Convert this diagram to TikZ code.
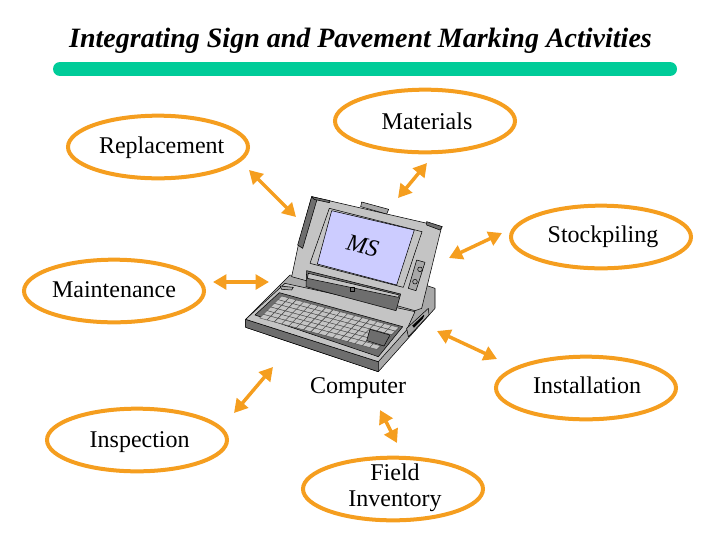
\documentclass[tikz,border=0pt]{standalone}
\usepackage{fontspec}
\setmainfont{Liberation Serif}
\usetikzlibrary{shapes.geometric,arrows.meta}
\definecolor{bandgreen}{HTML}{00CC99}
\definecolor{ringorange}{HTML}{F59E1F}
\definecolor{screenblue}{HTML}{CCCCFF}
\definecolor{lidgray}{HTML}{C4C4C4}
\definecolor{basegray}{HTML}{A8A8A8}
\definecolor{darkgray}{HTML}{6E6E6E}
\tikzset{
  bubble/.style={ellipse,draw=ringorange,line width=3pt,inner sep=0pt,
    minimum width=135pt,minimum height=47pt},
  plain/.style={inner sep=0pt,align=center,font=\fontsize{18}{19.5}\selectfont},
  link/.style={ringorange,line width=2.6pt,{Triangle[length=10pt,width=11pt]}-{Triangle[length=10pt,width=11pt]}},
  part/.style={draw=black,line width=0.4pt,line join=round},
  keycap/.style={draw=black!70,fill=lidgray,line width=0.3pt},
}
\begin{document}
\begin{tikzpicture}[x=0.75pt,y=-0.75pt]
  \useasboundingbox (0,0) rectangle (720,540);
  \node[inner sep=0pt,font=\fontsize{21}{24}\selectfont\bfseries\itshape] (title) at (360.5,41)
    {Integrating Sign and Pavement Marking Activities};
  \draw[bandgreen,line width=10.5pt,line cap=round] (60,69) -- (670,69);

  % laptop, in coordinates of a 3x enlargement
  \begin{scope}[shift={(230,180)},scale=1/3]
    \draw[part,fill=basegray] (47,418) -- (47,442) -- (445,575) -- (615,385)
      -- (615,325) -- (585,315) -- (180,285) -- cycle;
    \draw[part,fill=darkgray] (47,418) -- (47,442) -- (445,575) -- (445,545) -- cycle;
    \draw[part,fill=lidgray] (47,418) -- (165,310) -- (555,395) -- (530,450) -- (445,545) -- cycle;
    \draw[part,fill=basegray] (530,445) -- (595,385) -- (597,405) -- (535,470) -- cycle;
    \draw[part,fill=black] (548,437) -- (582,405) -- (578,415) -- (552,442) -- cycle;
    \draw[part,fill=basegray] (150,318) -- (190,322) -- (185,330) -- (155,328) -- cycle;
    \draw[part,fill=darkgray] (75,405) -- (148,338) -- (518,440) -- (445,530) -- cycle;
    \foreach \i in {0,...,15}
      \foreach \j in {0,...,5}
        \draw[keycap] ({155+\i*22-\j*11},{348+\i*5.9+\j*11}) -- ++(22,5.9) -- ++(-11,11) -- ++(-22,-5.9) -- cycle;
    \draw[part,fill=darkgray] (420,448) -- (480,465) -- (462,498) -- (410,482) -- cycle;
    % lid
    \draw[part,fill=lidgray] (245,50) -- (635,140) -- (575,385) -- (555,392)
      -- (185,290) -- (205,195) -- cycle;
    \draw[part,fill=darkgray] (245,50) -- (262,55) -- (218,205) -- (203,195) -- cycle;
    \draw[part,fill=darkgray] (245,50) -- (300,62) -- (298,68) -- (252,58) -- cycle;
    \draw[part,fill=darkgray] (590,125) -- (637,140) -- (630,150) -- (590,135) -- cycle;
    \draw[part,fill=basegray] (395,66) -- (476,88) -- (470,102) -- (392,80) -- cycle;
    \draw[part] (298,85) -- (576,155) -- (520,322) -- (240,250) -- cycle;
    \draw[part,fill=screenblue] (305,92) -- (553,150) -- (500,315) -- (262,252) -- cycle;
    \draw[part,fill=basegray] (560,240) -- (585,247) -- (558,332) -- (535,325) -- cycle;
    \draw[part] (570,268) circle (7);
    \draw[part] (555,305) circle (7);
    % hinge bar
    \draw[part,fill=darkgray] (230,272) -- (512,342) -- (498,392) -- (228,320) -- cycle;
    \draw[part,fill=lidgray] (235,280) -- (508,345) -- (505,352) -- (232,295) -- cycle;
    \draw[part,fill=darkgray] (360,322) rectangle (374,334);
    \node[plain,rotate=-14,font=\fontsize{18}{19.5}\selectfont\itshape] (screen) at (398,198) {MS};
  \end{scope}

  \node[plain] (computer) at (358,388) {Computer};
  \node[bubble,label={[plain,name=replacementtext,xshift=2.75pt,yshift=-0.75pt]center:Replacement}] (replacement) at (158,147) {};
  \node[bubble,label={[plain,name=materialstext,xshift=1.5pt]center:Materials}] (materials) at (425,121) {};
  \node[bubble,label={[plain,name=stockpilingtext,xshift=1.5pt]center:Stockpiling}] (stockpiling) at (601,237) {};
  \node[bubble,label={[plain,name=maintenancetext,yshift=0.75pt]center:Maintenance}] (maintenance) at (114,291) {};
  \node[bubble,label={[plain,name=installationtext,xshift=0.75pt,yshift=2pt]center:Installation}] (installation) at (586,388) {};
  \node[bubble,label={[plain,name=inspectiontext,xshift=2pt,yshift=-1.5pt]center:Inspection}] (inspection) at (137,440) {};
  \node[bubble,label={[plain,name=fieldinventorytext,xshift=1.5pt,yshift=1pt]center:{Field\\Inventory}}] (fieldinventory) at (393,489) {};

  \coordinate (a1) at (249,170); \coordinate (a2) at (296,217);
  \coordinate (b1) at (427,163); \coordinate (b2) at (398,198);
  \coordinate (c1) at (502,233); \coordinate (c2) at (449,258);
  \coordinate (d1) at (213,282); \coordinate (d2) at (269,282);
  \coordinate (e1) at (437,331); \coordinate (e2) at (497,359);
  \coordinate (f1) at (273,367); \coordinate (f2) at (234,413);
  \coordinate (g1) at (380,410); \coordinate (g2) at (397,443);
  \begin{scope}[link]
    \draw (a1) to (a2);
    \draw (b1) to (b2);
    \draw (c1) to (c2);
    \draw (d1) to (d2);
    \draw (e1) to (e2);
    \draw (f1) to (f2);
    \draw (g1) to (g2);
  \end{scope}
\end{tikzpicture}
\end{document}
